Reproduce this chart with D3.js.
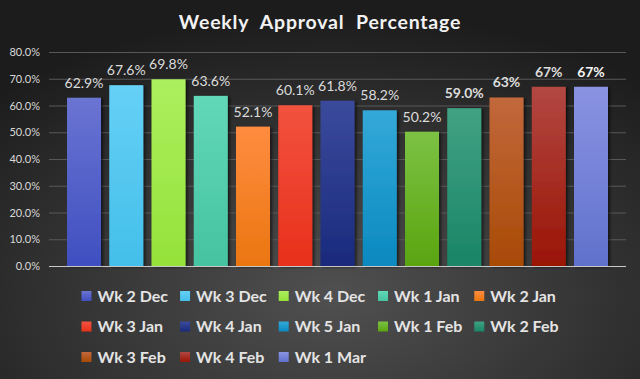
<!DOCTYPE html>
<html lang="en">
<head>
<meta charset="UTF-8">
<title>Weekly Approval Percentage</title>
<script src="https://cdn.jsdelivr.net/npm/d3@7"></script>
<style>
  html, body { margin: 0; padding: 0; background: #2a2a2a; }
  svg { display: block; font-family: Lato, "Open Sans", sans-serif; }
</style>
</head>
<body>
<div id="chart"></div>
<script>
// data
const weeks = ["Wk 2 Dec", "Wk 3 Dec", "Wk 4 Dec", "Wk 1 Jan", "Wk 2 Jan",
               "Wk 3 Jan", "Wk 4 Jan", "Wk 5 Jan", "Wk 1 Feb", "Wk 2 Feb",
               "Wk 3 Feb", "Wk 4 Feb", "Wk 1 Mar"];
const approval = [62.9, 67.6, 69.8, 63.6, 52.1, 60.1, 61.8, 58.2, 50.2, 59.0, 63, 67, 67];
const valueLabels = ["62.9%", "67.6%", "69.8%", "63.6%", "52.1%", "60.1%", "61.8%",
                     "58.2%", "50.2%", "59.0%", "63%", "67%", "67%"];
const yTicks = [0, 10, 20, 30, 40, 50, 60, 70, 80];

// bar colours, top and bottom of each gradient
const topColors = ["#6a74d2", "#66d0f6", "#acef5e", "#62d8b8", "#ff8c40", "#f2523f", "#3b4a9c",
                   "#34a9d8", "#7cc244", "#40a283", "#c2683c", "#b24742", "#8a93e2"];
const bottomColors = ["#3f4fc0", "#43bfea", "#95e23a", "#45c3a0", "#ea7610", "#e8301a", "#1a2a7c",
                      "#0a89c0", "#5aa510", "#1a8566", "#a84a05", "#9a1505", "#6071cc"];

const W = 640, H = 379;
const margin = { top: 52, right: 14, bottom: 113, left: 49 };
const innerW = W - margin.left - margin.right;
const innerH = H - margin.top - margin.bottom;

const svg = d3.select("#chart").append("svg")
  .attr("width", W)
  .attr("height", H);

const defs = svg.append("defs");

// background
const bg = defs.append("radialGradient")
  .attr("id", "bg")
  .attr("cx", "52%").attr("cy", "78%").attr("r", "75%");
bg.append("stop").attr("offset", "0%").attr("stop-color", "#505050");
bg.append("stop").attr("offset", "100%").attr("stop-color", "#1c1c1c");

svg.append("rect")
  .attr("width", W).attr("height", H)
  .attr("fill", "url(#bg)");

weeks.forEach((w, i) => {
  const g = defs.append("linearGradient")
    .attr("id", "bar" + i)
    .attr("x1", 0).attr("y1", 0).attr("x2", 0).attr("y2", 1);
  g.append("stop").attr("offset", "0%").attr("stop-color", topColors[i]);
  g.append("stop").attr("offset", "100%").attr("stop-color", bottomColors[i]);
});

const shadow = defs.append("filter")
  .attr("id", "shadow")
  .attr("x", "-20%").attr("y", "-10%").attr("width", "150%").attr("height", "130%");
shadow.append("feDropShadow")
  .attr("dx", 2).attr("dy", 1).attr("stdDeviation", 1.6)
  .attr("flood-color", "#000").attr("flood-opacity", 0.6);

// title
svg.append("text")
  .attr("x", W / 2)
  .attr("y", 29)
  .attr("text-anchor", "middle")
  .attr("fill", "#f2f2f2")
  .attr("font-size", 19.5)
  .attr("font-weight", "bold")
  .attr("letter-spacing", 0.8)
  .attr("word-spacing", 6)
  .text("Weekly Approval Percentage");

const plot = svg.append("g")
  .attr("transform", `translate(${margin.left},${margin.top})`);

const x = d3.scaleBand()
  .domain(weeks)
  .range([0, innerW])
  .paddingInner(0.195)
  .paddingOuter(0.426);

const y = d3.scaleLinear()
  .domain([0, 80])
  .range([innerH, 0]);

// gridlines + y labels
const yAxis = d3.axisLeft(y)
  .tickValues(yTicks)
  .tickSize(-innerW)
  .tickPadding(9)
  .tickFormat(d => d3.format(".1f")(d) + "%");

const ya = plot.append("g").call(yAxis);
ya.select(".domain").remove();
ya.selectAll(".tick line").attr("stroke", "#585858").attr("stroke-width", 1);
ya.selectAll(".tick text")
  .attr("fill", "#d9d9d9")
  .attr("font-size", 11)
  .attr("font-family", "Lato, sans-serif");

// bars
plot.selectAll(".bar")
  .data(weeks)
  .enter()
  .append("rect")
  .attr("class", "bar")
  .attr("x", d => x(d))
  .attr("width", x.bandwidth())
  .attr("y", (d, i) => y(approval[i]))
  .attr("height", (d, i) => innerH - y(approval[i]))
  .attr("fill", (d, i) => `url(#bar${i})`)
  .attr("filter", "url(#shadow)");

// baseline
plot.append("line")
  .attr("x1", 0).attr("x2", innerW)
  .attr("y1", y(0) + 0.5).attr("y2", y(0) + 0.5)
  .attr("stroke", "#c8c8c8").attr("stroke-width", 1);

// value labels
const boldFrom = 9;
plot.selectAll(".val")
  .data(weeks)
  .enter()
  .append("text")
  .attr("class", "val")
  .attr("x", d => x(d) + x.bandwidth() / 2)
  .attr("y", (d, i) => y(approval[i]) - 10)
  .attr("text-anchor", "middle")
  .attr("font-size", 14)
  .attr("font-weight", (d, i) => i >= boldFrom ? "bold" : "normal")
  .attr("fill", (d, i) => i === weeks.length - 1 ? "#f4f4f4" : "#dcdcdc")
  .text((d, i) => valueLabels[i]);

// legend: 5 columns, column width from widest label
const cols = 5;
const rowH = 30.5;
const sw = 10, swGap = 6, colGap = 12;
const legend = svg.append("g");

const items = legend.selectAll(".item")
  .data(weeks)
  .enter()
  .append("g")
  .attr("class", "item");

items.append("rect")
  .attr("width", sw).attr("height", sw)
  .attr("y", -sw / 2)
  .attr("fill", (d, i) => `url(#bar${i})`);

items.append("text")
  .attr("x", sw + swGap)
  .attr("dy", "0.36em")
  .attr("font-size", 16)
  .attr("font-weight", "bold")
  .attr("fill", "#e4e4e4")
  .text(d => d);

const textW = [];
items.select("text").each(function () { textW.push(this.getComputedTextLength()); });
const colW = d3.range(cols).map(c =>
  d3.max(weeks.map((d, i) => i % cols === c ? textW[i] : 0)) + sw + swGap + colGap);
const colX = colW.map((w, c) => d3.sum(colW.slice(0, c)));
const totalW = d3.sum(colW) - colGap;
const legendX = W / 2 - totalW / 2;

items.attr("transform", (d, i) =>
  `translate(${legendX + colX[i % cols]},${296 + Math.floor(i / cols) * rowH})`);
</script>
</body>
</html>
